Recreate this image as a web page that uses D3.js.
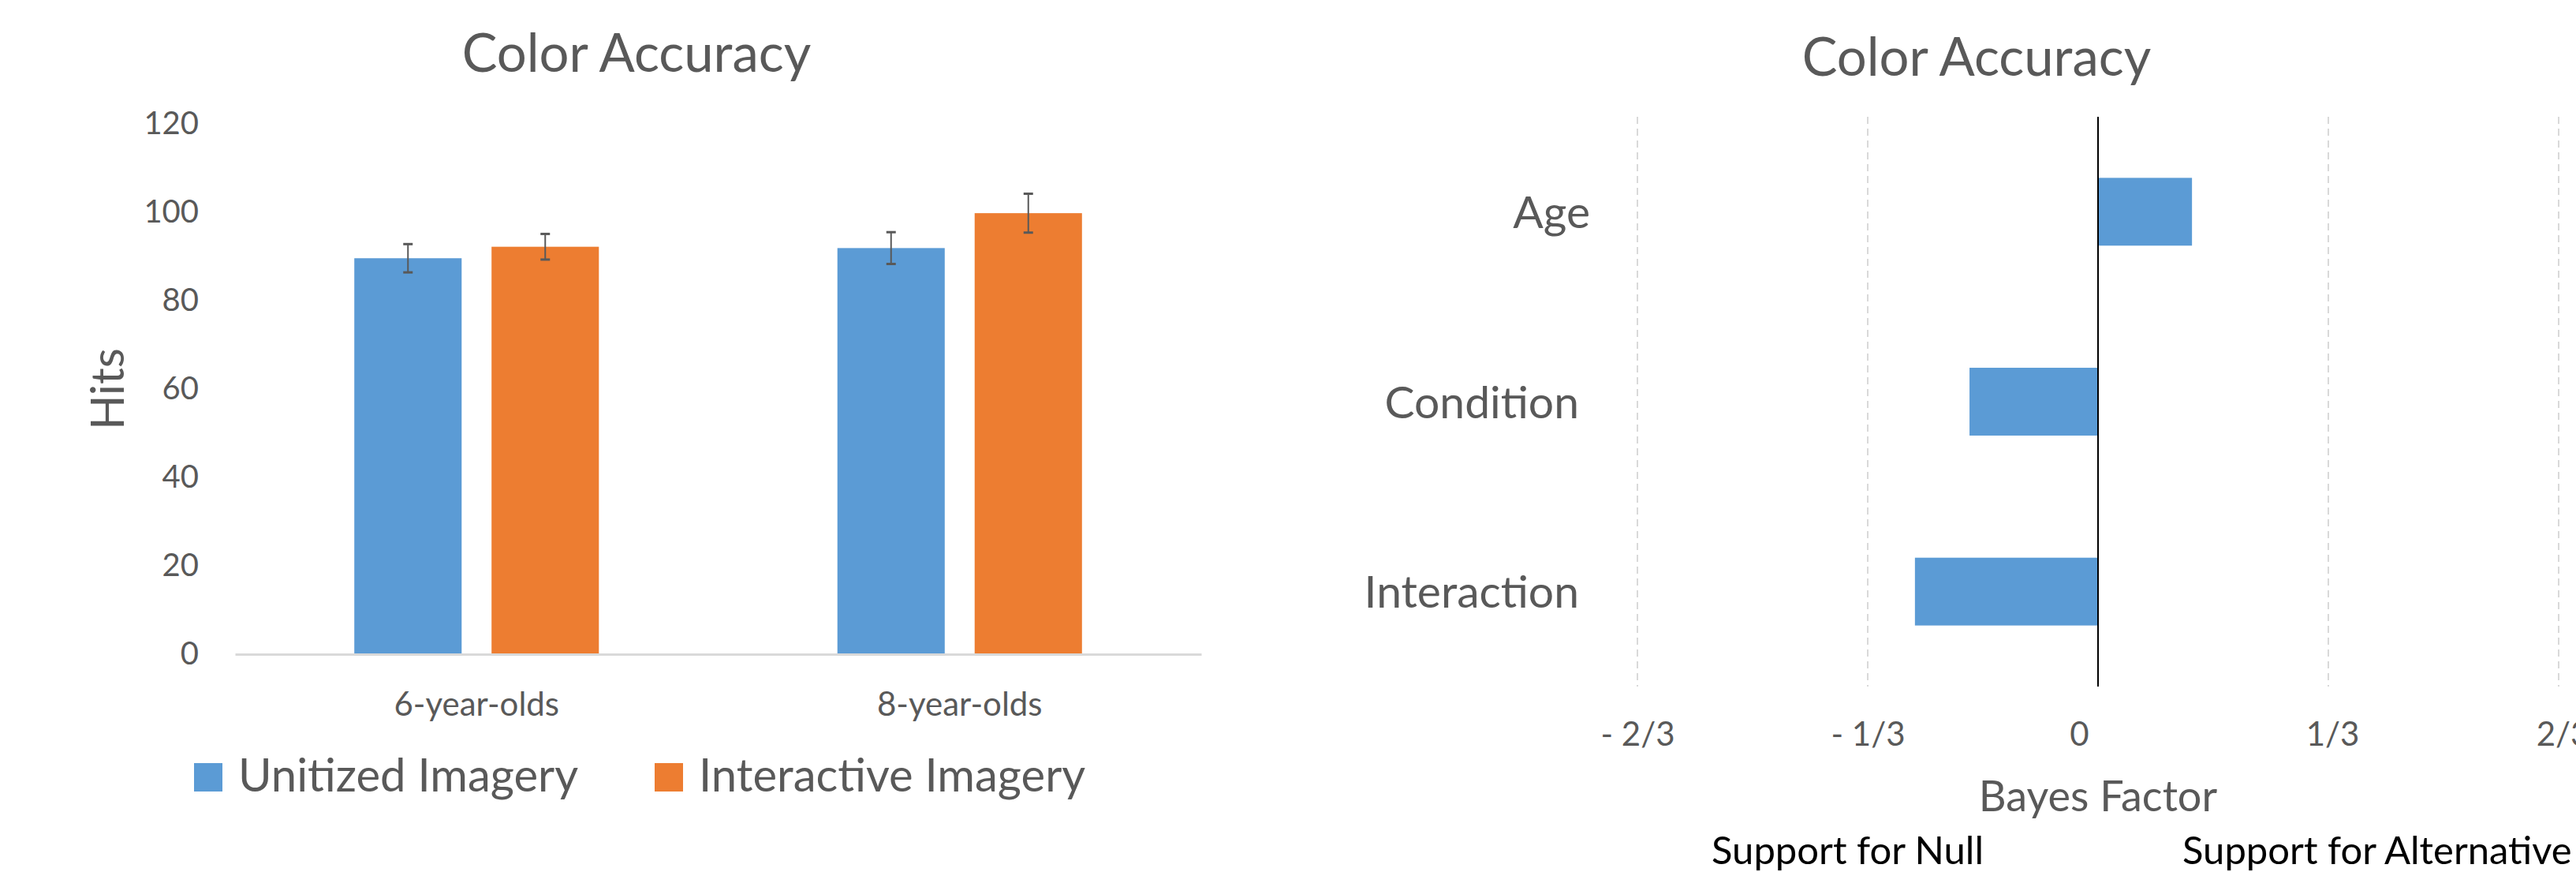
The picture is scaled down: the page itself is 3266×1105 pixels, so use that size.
<!DOCTYPE html>
<html>
<head>
<meta charset="utf-8">
<script src="https://cdn.jsdelivr.net/npm/d3@7"></script>
<style>
  body { margin: 0; background: #fff; }
  svg { display: block; font-family: Lato, "Open Sans", sans-serif; }
</style>
</head>
<body>
<div id="myPlot"></div>
<script>
// ---- data ----
var ageGroups = ["6-year-olds", "8-year-olds"];
var seriesNames = ["Unitized Imagery", "Interactive Imagery"];
var unitizedHits = [89.6, 91.9];
var interactiveHits = [92.2, 99.8];
var unitizedErr = [3.2, 3.6];
var interactiveErr = [2.9, 4.4];
var hitTicks = [0, 20, 40, 60, 80, 100, 120];

var effects = ["Age", "Condition", "Interaction"];
var bayesValues = [0.136, -0.186, -0.265];
var fracTicks = [-2 / 3, -1 / 3, 0, 1 / 3, 2 / 3];
var fracLabels = ["- 2/3", "- 1/3", "0", "1/3", "2/3"];

// ---- setup ----
var svgWidth = 3266;
var svgHeight = 1105;
var textColor = "#595959";
var colors = ["#5B9BD5", "#ED7D31"];

var svg = d3.select("#myPlot")
    .append("svg")
    .attr("width", svgWidth)
    .attr("height", svgHeight);

//////////////////////////////////////////////////////////////////
// left chart: grouped bars with error bars
var left = svg.append("g");

var xBand = d3.scaleBand()
    .domain(ageGroups)
    .range([298, 1523]);

var xInner = d3.scaleBand()
    .domain(seriesNames)
    .range([0, xBand.bandwidth()])
    .paddingInner(0.218)
    .paddingOuter(0.869);

var yScale = d3.scaleLinear()
    .domain([0, 120])
    .range([829, 157]);

left.append("text")
    .attr("x", 807)
    .attr("y", 91)
    .attr("text-anchor", "middle")
    .style("font-size", "67px")
    .attr("fill", textColor)
    .text("Color Accuracy");

// y axis (labels only)
var yAxisG = left.append("g")
    .attr("transform", "translate(252,0)")
    .call(d3.axisLeft(yScale).tickValues(hitTicks).tickSize(0).tickPadding(0));
yAxisG.select(".domain").remove();
yAxisG.selectAll("text")
    .style("font-size", "40px")
    .style("font-family", "Lato")
    .attr("fill", textColor);

left.append("text")
    .attr("transform", "translate(157,493) rotate(-90)")
    .attr("text-anchor", "middle")
    .style("font-size", "58px")
    .attr("fill", textColor)
    .text("Hits");

// bars
var rows = [];
ageGroups.forEach(function (g, i) {
    rows.push({ group: g, series: seriesNames[0], value: unitizedHits[i], err: unitizedErr[i], c: colors[0] });
    rows.push({ group: g, series: seriesNames[1], value: interactiveHits[i], err: interactiveErr[i], c: colors[1] });
});

left.selectAll("rect.bar").data(rows)
    .enter().append("rect")
    .attr("class", "bar")
    .attr("x", d => xBand(d.group) + xInner(d.series))
    .attr("y", d => yScale(d.value))
    .attr("width", xInner.bandwidth())
    .attr("height", d => yScale(0) - yScale(d.value))
    .attr("fill", d => d.c);

// x axis
var xAxisG = left.append("g")
    .attr("transform", "translate(0,829)")
    .call(d3.axisBottom(xBand).tickSize(0).tickSizeOuter(0).tickPadding(48));
xAxisG.select(".domain")
    .attr("stroke", "#d9d9d9")
    .attr("stroke-width", 3);
xAxisG.selectAll("text")
    .style("font-size", "42px")
    .style("font-family", "Lato")
    .attr("fill", textColor);

// error bars
var errG = left.selectAll("g.err").data(rows)
    .enter().append("g")
    .attr("class", "err")
    .attr("stroke", textColor)
    .attr("stroke-width", 2);
errG.append("line")
    .attr("x1", d => xBand(d.group) + xInner(d.series) + xInner.bandwidth() / 2)
    .attr("x2", d => xBand(d.group) + xInner(d.series) + xInner.bandwidth() / 2)
    .attr("y1", d => yScale(d.value + d.err))
    .attr("y2", d => yScale(d.value - d.err));
[1, -1].forEach(function (s) {
    errG.append("line")
        .attr("x1", d => xBand(d.group) + xInner(d.series) + xInner.bandwidth() / 2 - 6)
        .attr("x2", d => xBand(d.group) + xInner(d.series) + xInner.bandwidth() / 2 + 6)
        .attr("y1", d => yScale(d.value + s * d.err))
        .attr("y2", d => yScale(d.value + s * d.err))
        .attr("stroke-width", 3);
});

// legend
var legendX = [246, 830];
seriesNames.forEach(function (name, i) {
    left.append("rect")
        .attr("x", legendX[i])
        .attr("y", 967)
        .attr("width", 36)
        .attr("height", 36)
        .attr("fill", colors[i]);
    left.append("text")
        .attr("x", legendX[i] + 56)
        .attr("y", 1003)
        .style("font-size", "58px")
        .attr("fill", textColor)
        .text(name);
});

//////////////////////////////////////////////////////////////////
// right chart: horizontal bayes factor bars
var right = svg.append("g");

var bx = d3.scaleLinear()
    .domain([-2 / 3, 2 / 3])
    .range([2076, 3244]);

var by = d3.scaleBand()
    .domain(effects)
    .range([148, 870])
    .paddingInner(0.643)
    .paddingOuter(0.3215);

right.append("text")
    .attr("x", 2506)
    .attr("y", 96)
    .attr("text-anchor", "middle")
    .style("font-size", "67px")
    .attr("fill", textColor)
    .text("Color Accuracy");

// dashed gridlines
right.selectAll("line.grid").data(fracTicks.filter(d => d !== 0))
    .enter().append("line")
    .attr("class", "grid")
    .attr("x1", d => bx(d))
    .attr("x2", d => bx(d))
    .attr("y1", 148)
    .attr("y2", 870)
    .attr("stroke", "#d9d9d9")
    .attr("stroke-width", 2)
    .attr("stroke-dasharray", "9,6");

// bars
right.selectAll("rect.bf").data(effects)
    .enter().append("rect")
    .attr("class", "bf")
    .attr("x", (d, i) => bx(Math.min(0, bayesValues[i])))
    .attr("y", d => by(d))
    .attr("width", (d, i) => Math.abs(bx(bayesValues[i]) - bx(0)))
    .attr("height", by.bandwidth())
    .attr("fill", colors[0]);

// zero line
right.append("line")
    .attr("x1", bx(0))
    .attr("x2", bx(0))
    .attr("y1", 148)
    .attr("y2", 870)
    .attr("stroke", "#000")
    .attr("stroke-width", 2);

// category labels
right.selectAll("text.cat").data(effects)
    .enter().append("text")
    .attr("class", "cat")
    .attr("x", (d, i) => i === 0 ? 2016 : 2002)
    .attr("y", d => by(d) + by.bandwidth() / 2)
    .attr("dy", "0.36em")
    .attr("text-anchor", "end")
    .style("font-size", "57px")
    .attr("fill", textColor)
    .text(d => d);

// x axis labels
var bxAxisG = right.append("g")
    .attr("transform", "translate(0,870)")
    .call(d3.axisBottom(bx).tickValues(fracTicks)
        .tickFormat((d, i) => fracLabels[i])
        .tickSize(0).tickPadding(45));
bxAxisG.select(".domain").remove();
bxAxisG.selectAll("text")
    .style("font-size", "42px")
    .style("font-family", "Lato")
    .attr("fill", textColor)
    .attr("dx", d => d === 0 ? -24 : (d > 0 ? 5 : 0));

right.append("text")
    .attr("x", 2660)
    .attr("y", 1028)
    .attr("text-anchor", "middle")
    .style("font-size", "54px")
    .attr("fill", textColor)
    .text("Bayes Factor");

right.append("text")
    .attr("x", 2170)
    .attr("y", 1095)
    .style("font-size", "49px")
    .attr("fill", "#000")
    .text("Support for Null");

right.append("text")
    .attr("x", 2767)
    .attr("y", 1095)
    .style("font-size", "49px")
    .attr("fill", "#000")
    .text("Support for Alternative");
</script>
</body>
</html>
